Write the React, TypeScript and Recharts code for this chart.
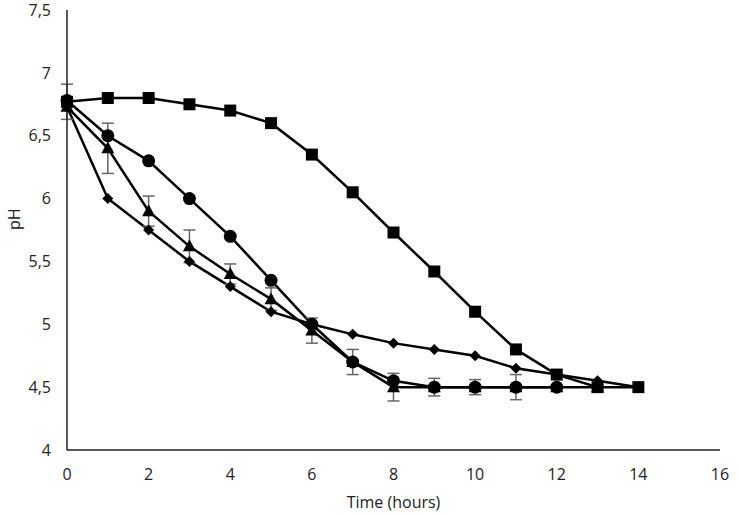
import { LineChart, Line, XAxis, YAxis, ErrorBar, Label } from "recharts";

const hoursSquare = [0, 1, 2, 3, 4, 5, 6, 7, 8, 9, 10, 11, 12, 13, 14];
const phSquare = [6.77, 6.8, 6.8, 6.75, 6.7, 6.6, 6.35, 6.05, 5.73, 5.42, 5.1, 4.8, 4.6, 4.5, 4.5];
const errSquare = [0.14, 0, 0, 0, 0, 0, 0, 0, 0, 0, 0, 0, 0, 0, 0];

const hoursCircle = [0, 1, 2, 3, 4, 5, 6, 7, 8, 9, 10, 11, 12];
const phCircle = [6.78, 6.5, 6.3, 6.0, 5.7, 5.35, 5.0, 4.7, 4.55, 4.5, 4.5, 4.5, 4.5];
const errCircle = [0, 0, 0, 0, 0, 0, 0, 0, 0, 0.07, 0.06, 0.1, 0];

const hoursTriangle = [0, 1, 2, 3, 4, 5, 6, 7, 8, 9, 10, 11, 12, 13];
const phTriangle = [6.73, 6.4, 5.9, 5.62, 5.4, 5.2, 4.95, 4.7, 4.5, 4.5, 4.5, 4.5, 4.5, 4.5];
const errTriangle = [0, 0.2, 0.12, 0.13, 0.08, 0.09, 0.1, 0.1, 0.11, 0, 0, 0, 0, 0];

const hoursDiamond = [0, 1, 2, 3, 4, 5, 6, 7, 8, 9, 10, 11, 12, 13, 14];
const phDiamond = [6.73, 6.0, 5.75, 5.5, 5.3, 5.1, 5.0, 4.92, 4.85, 4.8, 4.75, 4.65, 4.6, 4.55, 4.5];

const xTicks = [0, 2, 4, 6, 8, 10, 12, 14, 16];
const yTicks = [4, 4.5, 5, 5.5, 6, 6.5, 7, 7.5];

const build = (hours: number[], ph: number[], err?: number[]) =>
  hours.map((h, i) => ({ t: h, ph: ph[i], err: err ? err[i] : 0 }));

const squareData = build(hoursSquare, phSquare, errSquare);
const circleData = build(hoursCircle, phCircle, errCircle);
const triangleData = build(hoursTriangle, phTriangle, errTriangle);
const diamondData = build(hoursDiamond, phDiamond);

const SquareDot = (p: any) => (
  <rect key={p.index} x={p.cx - 6} y={p.cy - 6} width={12} height={12} fill="#000" />
);
const CircleDot = (p: any) => <circle key={p.index} cx={p.cx} cy={p.cy} r={6.5} fill="#000" />;
const TriangleDot = (p: any) => (
  <polygon
    key={p.index}
    points={`${p.cx},${p.cy - 7} ${p.cx + 6.5},${p.cy + 5} ${p.cx - 6.5},${p.cy + 5}`}
    fill="#000"
  />
);
const DiamondDot = (p: any) => (
  <polygon
    key={p.index}
    points={`${p.cx},${p.cy - 5.5} ${p.cx + 5.5},${p.cy} ${p.cx},${p.cy + 5.5} ${p.cx - 5.5},${p.cy}`}
    fill="#000"
  />
);

const fmt = (v: number) => String(v).replace(".", ",");
const font = "'Open Sans', 'Noto Sans', sans-serif";

export default function App() {
  return (
    <div style={{ position: "absolute", left: 0, top: 0, background: "#fff", width: 739, height: 515 }}>
      <LineChart
        width={739}
        height={515}
        margin={{ top: 10, right: 19, bottom: 35, left: 0 }}
        style={{ fontFamily: font }}
      >
        <XAxis
          type="number"
          dataKey="t"
          domain={[0, 16]}
          ticks={xTicks}
          height={30}
          tickLine={false}
          tickSize={0}
          tickMargin={19}
          axisLine={{ stroke: "#222", strokeWidth: 1.5 }}
          tick={{ fill: "#222", fontSize: 16 }}
          allowDuplicatedCategory={false}
        >
          <Label value="Time (hours)" position="insideBottom" offset={-28} fill="#222" fontSize={16} />
        </XAxis>
        <YAxis
          type="number"
          domain={[4, 7.5]}
          ticks={yTicks}
          width={67}
          tickLine={false}
          tickSize={0}
          tickMargin={16}
          tickFormatter={fmt}
          axisLine={{ stroke: "#222", strokeWidth: 1.5 }}
          tick={{ fill: "#222", fontSize: 16 }}
        >
          <Label value="pH" angle={-90} position="insideLeft" offset={14} fill="#222" fontSize={16} />
        </YAxis>
        <Line data={diamondData} dataKey="ph" stroke="#000" strokeWidth={2.5} dot={DiamondDot} activeDot={false} isAnimationActive={false} />
        <Line data={circleData} dataKey="ph" stroke="#000" strokeWidth={2.5} dot={CircleDot} activeDot={false} isAnimationActive={false}>
          <ErrorBar dataKey="err" direction="y" width={6} stroke="#666" strokeWidth={1.5} />
        </Line>
        <Line data={triangleData} dataKey="ph" stroke="#000" strokeWidth={2.5} dot={TriangleDot} activeDot={false} isAnimationActive={false}>
          <ErrorBar dataKey="err" direction="y" width={6} stroke="#666" strokeWidth={1.5} />
        </Line>
        <Line data={squareData} dataKey="ph" stroke="#000" strokeWidth={2.5} dot={SquareDot} activeDot={false} isAnimationActive={false}>
          <ErrorBar dataKey="err" direction="y" width={6} stroke="#666" strokeWidth={1.5} />
        </Line>
      </LineChart>
    </div>
  );
}
